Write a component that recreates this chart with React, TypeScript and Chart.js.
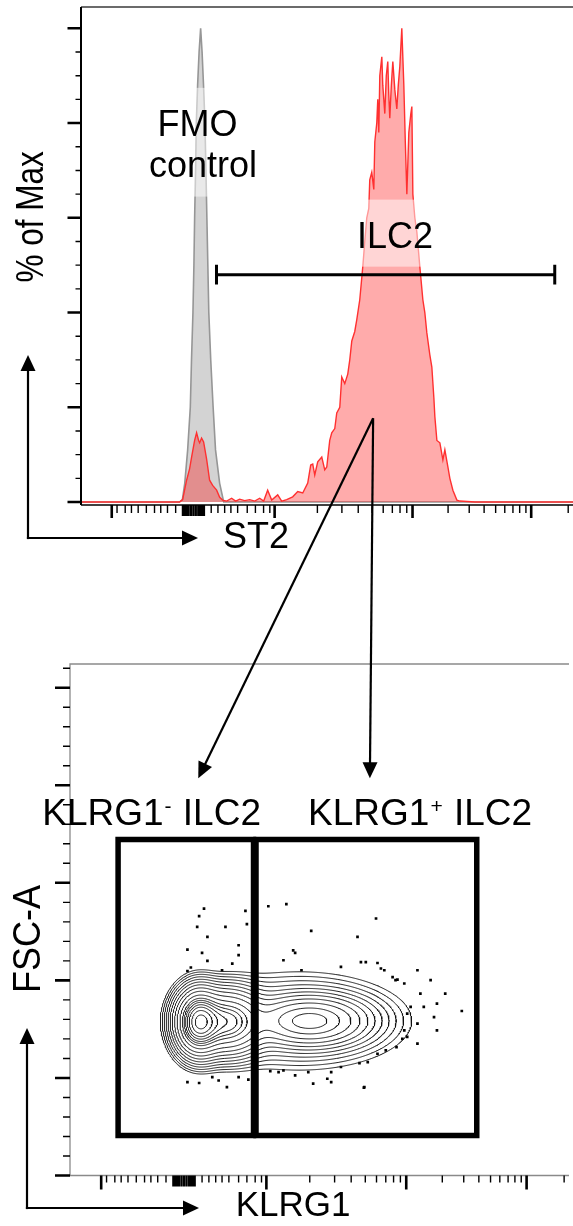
import React, { useEffect, useRef } from 'react';
import { Chart, registerables } from 'chart.js';

Chart.register(...registerables);

const W = 573;
const H = 1226;
const FONT = '"Liberation Sans", Arial, Helvetica, sans-serif';

// ---------- shared biexponential display axis (display channels 0-1024) ----------
const channelMin = 0;
const channelMax = 1024;
const biexMajorTicks = [64, 403, 690, 937]; // -10^3, 10^3, 10^4, 10^5
const biexZeroTicks = [212, 216, 220, 224, 229, 234, 239, 244, 248, 252, 256];
const biexMinorTicks = [75, 92, 105, 119, 136, 153, 166, 180, 197, 271, 285, 299, 312, 326, 346, 363, 380, 393,
  492, 543, 577, 606, 629, 648, 664, 678, 764, 808, 839, 863, 882, 899, 913, 926, 1014];

// ---------- top panel: ST2 histogram ----------
const pctMin = -0.63;
const pctMax = 104.5;
const pctMajorTicks = [0, 20, 40, 60, 80, 100];
const pctMinorTicks = [5, 10, 15, 25, 30, 35, 45, 50, 55, 65, 70, 75, 85, 90, 95];

const fmoChannel = [0, 205, 211, 216, 222, 227.5, 230, 233, 235, 236.5, 238.5, 240, 242.7, 245.8, 249, 252, 255, 258, 260, 262, 264, 266, 270, 275, 280, 288.5, 297, 1024];
const fmoPct = [0, 0, 0.5, 4, 11, 20, 30, 40, 50, 60, 70, 80, 88, 95, 100, 95, 88, 80, 70, 60, 50, 40, 30, 20, 11, 4, 0, 0];

const ilc2Channel = [0, 205, 211.5, 219.8, 226, 230.2, 236.5, 240.6, 244.8, 246.9, 251, 255.2, 261.5, 267.7, 274, 282.3, 288.6, 294.8,
  303.1, 313.5, 321.9, 330.2, 340.6, 351, 361.5, 371.9, 380.2, 388.5, 396.9, 409.4, 417.7, 428.1, 440.6, 451.1, 461.5, 471.9,
  478.1, 482.3, 486.5, 492.7, 501.1, 507.3, 511.5, 517.7, 521.9, 528.2, 532.3, 538.6, 542.7, 549, 555.2, 559.4, 563.6, 569.8,
  574, 580.2, 586.5, 590.6, 594.8, 599, 601, 605.2, 609.4, 611.5, 615.6, 617.7, 619.8, 621.9, 626.1, 628.1, 632.3, 635.4,
  638.5, 640.6, 642.7, 645.9, 649, 653.2, 657.3, 660.4, 663.6, 667.7, 671.9, 675, 678.2, 682.3, 686.5, 688.6, 690.7, 694.8,
  699, 705.2, 711.5, 715.6, 719.8, 726.1, 730.2, 734.4, 736.5, 740.7, 746.9, 753.2, 757.3, 763.6, 767.7, 774, 782.3, 788.5,
  819.8, 1024];
const ilc2Pct = [0, 0, 0.5, 4.6, 7, 9.5, 13, 14.6, 13, 12.5, 13.5, 12.7, 9, 4.6, 3.5, 2.5, 1, 0.4,
  0.2, 0.8, 0.2, 0.6, 0.3, 0.5, 0.2, 0.8, 0.2, 2.5, 0.4, 1.5, 0.2, 0.5, 1.1, 2.2, 1.9, 4,
  7.8, 8, 5.7, 8.5, 9.5, 6.8, 7.4, 13, 14.6, 15.5, 18.8, 20, 26.4, 25, 27, 30, 34, 36,
  38.5, 42.7, 49.7, 55, 60, 62, 68, 69.6, 66, 76, 80, 85, 78, 90, 94, 88, 82, 90,
  93, 86, 81, 88, 93, 87, 83, 88, 92, 100, 88, 76, 65, 78, 82, 83.5, 65, 60,
  57, 49.7, 42.7, 40, 35.7, 31, 28.5, 22, 18, 13, 12.5, 8.9, 11, 7.4, 5, 2.5, 0.4, 0.2,
  0, 0];

const ilc2GateChannels = [282, 986];
const ilc2GateLevel = 48;
const ilc2GateCap = [45.9, 50.1];

const fmoLabel = { x: 242.5, y: 77.3 };
const controlLabel = { x: 254, y: 68.7 };
const ilc2Label = { x: 653.5, y: 53.7 };
const arrowStart = { x: 608, y: 17.7 };

// ---------- bottom panel: KLRG1 vs FSC-A contour ----------
const fscMin = 0;
const fscMax = 262.144; // thousands
const fscMajorTicks = [0, 50, 100, 150, 200, 250];
const fscMinorTicks = [10, 20, 30, 40, 60, 70, 80, 90, 110, 120, 130, 140, 160, 170, 180, 190, 210, 220, 230, 240, 260];

const popCenterKlrg1 = [264.7, 321.7, 492.7, 468.2];
const popCenterFsc = [78.7, 78.7, 79.2, 79.2];
const popSpreadKlrg1 = [22.4, 36.6, 57.0, 101.8];
const popSpreadFsc = [7.7, 7.7, 6.16, 11.3];
const popWeight = [0.8, 0.45, 0.3, 0.03];
const contourLevels = [0.9, 0.75, 0.62, 0.52, 0.43, 0.36, 0.29, 0.203, 0.126, 0.078, 0.048, 0.03, 0.0186, 0.0115, 0.0071, 0.0044, 0.0027];

const outlierKlrg1 = [275, 360, 407, 444, 265, 261, 319, 363, 282, 628, 495, 590, 346, 241, 271, 346, 458, 462, 333, 282,
  248, 241, 312, 438, 475, 556, 597, 607, 631, 638, 645, 662, 668, 672, 686, 713, 740, 770, 719, 726, 753, 699, 692, 713,
  747, 753, 804, 686, 692, 682, 713, 648, 631, 594, 611, 556, 411, 428, 438, 462, 489, 536, 241, 265, 322, 366, 536, 604,
  292, 346, 305, 499, 603, 528, 670];
const outlierFsc = [136.8, 135.6, 138.0, 139.1, 132.9, 127.4, 127.4, 128.8, 122.3, 131.7, 125.4, 122.3, 118.0, 115.8, 114.1,
  112.9, 115.4, 114.1, 108.6, 110.0, 106.6, 104.8, 105.2, 110.3, 105.2, 106.9, 109.4, 109.4, 108.9, 106.1, 105.2, 101.7,
  100.1, 100.4, 98.4, 105.2, 100.1, 93.2, 93.2, 86.4, 88.1, 86.4, 83.0, 77.8, 81.2, 74.4, 84.3, 74.4, 71.0, 70.1, 67.6,
  64.1, 62.4, 57.6, 58.1, 55.6, 53.5, 53.0, 53.9, 51.3, 53.0, 53.0, 47.9, 47.4, 45.3, 49.1, 47.9, 45.3, 50.4, 50.4, 48.7,
  47.1, 45.0, 49.6, 65.8];

const gateNegKlrg1 = [98.7, 376.6];
const gatePosKlrg1 = [381.7, 834.7];
const gateFsc = [20.5, 172.2];

const negLabel = { x: -57, y: 179.6 };
const posLabel = { x: 488.6, y: 179.6 };
const arrowEndNeg = { x: 263.2, y: 203.6 };
const arrowEndPos = { x: 615.4, y: 203.6 };

// ---------- helpers ----------
function buildContours() {
  const x0 = 120, x1 = 900, y0 = 25, y1 = 140, nx = 390, ny = 230;
  const dx = (x1 - x0) / nx, dy = (y1 - y0) / ny;
  const NX = nx + 1;
  const g = new Float64Array(NX * (ny + 1));
  let max = 0;
  for (let j = 0; j <= ny; j++) {
    for (let i = 0; i <= nx; i++) {
      const x = x0 + i * dx, y = y0 + j * dy;
      let s = 0;
      for (let k = 0; k < popWeight.length; k++) {
        const u = (x - popCenterKlrg1[k]) / popSpreadKlrg1[k];
        const v = (y - popCenterFsc[k]) / popSpreadFsc[k];
        s += popWeight[k] * Math.exp(-0.5 * (u * u + v * v));
      }
      g[j * NX + i] = s;
      if (s > max) max = s;
    }
  }
  const out: any[] = [];
  for (const rel of contourLevels) {
    const L = rel * max;
    const segs: number[] = [];
    const adj = new Map<number, number[]>();
    const add = (a: number, b: number) => {
      const id = segs.length / 2;
      segs.push(a, b);
      if (!adj.has(a)) adj.set(a, []);
      if (!adj.has(b)) adj.set(b, []);
      adj.get(a)!.push(id);
      adj.get(b)!.push(id);
    };
    for (let j = 0; j < ny; j++) {
      for (let i = 0; i < nx; i++) {
        const v0 = g[j * NX + i], v1 = g[j * NX + i + 1], v2 = g[(j + 1) * NX + i + 1], v3 = g[(j + 1) * NX + i];
        const c = (v0 > L ? 1 : 0) | (v1 > L ? 2 : 0) | (v2 > L ? 4 : 0) | (v3 > L ? 8 : 0);
        if (c === 0 || c === 15) continue;
        const e0 = (j * NX + i) * 2;
        const e1 = (j * NX + i + 1) * 2 + 1;
        const e2 = ((j + 1) * NX + i) * 2;
        const e3 = (j * NX + i) * 2 + 1;
        const center = (v0 + v1 + v2 + v3) / 4;
        switch (c) {
          case 1: case 14: add(e3, e0); break;
          case 2: case 13: add(e0, e1); break;
          case 3: case 12: add(e3, e1); break;
          case 4: case 11: add(e1, e2); break;
          case 6: case 9: add(e0, e2); break;
          case 7: case 8: add(e3, e2); break;
          case 5:
            if (center > L) { add(e0, e1); add(e2, e3); } else { add(e3, e0); add(e1, e2); }
            break;
          case 10:
            if (center > L) { add(e3, e0); add(e1, e2); } else { add(e0, e1); add(e2, e3); }
            break;
        }
      }
    }
    const pt = (key: number) => {
      const idx = key >> 1;
      const i = idx % NX, j = Math.floor(idx / NX);
      if ((key & 1) === 0) {
        const a = g[idx], b = g[idx + 1];
        const t = (L - a) / (b - a);
        return { x: x0 + (i + t) * dx, y: y0 + j * dy };
      }
      const a = g[idx], b = g[idx + NX];
      const t = (L - a) / (b - a);
      return { x: x0 + i * dx, y: y0 + (j + t) * dy };
    };
    const nSeg = segs.length / 2;
    const used = new Uint8Array(nSeg);
    for (let s = 0; s < nSeg; s++) {
      if (used[s]) continue;
      used[s] = 1;
      const fwd: number[] = [segs[2 * s], segs[2 * s + 1]];
      let cur = segs[2 * s + 1];
      for (;;) {
        const nb = (adj.get(cur) || []).find((k) => !used[k]);
        if (nb === undefined) break;
        used[nb] = 1;
        const a = segs[2 * nb], b = segs[2 * nb + 1];
        cur = a === cur ? b : a;
        fwd.push(cur);
      }
      const back: number[] = [];
      cur = segs[2 * s];
      for (;;) {
        const nb = (adj.get(cur) || []).find((k) => !used[k]);
        if (nb === undefined) break;
        used[nb] = 1;
        const a = segs[2 * nb], b = segs[2 * nb + 1];
        cur = a === cur ? b : a;
        back.push(cur);
      }
      const chain = back.reverse().concat(fwd);
      let last = { x: 0, y: 0 };
      for (const k of chain) {
        last = pt(k);
        out.push(last);
      }
      out.push({ x: last.x, y: null });
    }
  }
  return out;
}

function arrowHead(ctx: CanvasRenderingContext2D, x1: number, y1: number, x2: number, y2: number, len: number, half: number, lw: number) {
  const ang = Math.atan2(y2 - y1, x2 - x1);
  const bx = x2 - Math.cos(ang) * len, by = y2 - Math.sin(ang) * len;
  ctx.lineWidth = lw;
  ctx.beginPath();
  ctx.moveTo(x1, y1);
  ctx.lineTo(bx + Math.cos(ang) * 1, by + Math.sin(ang) * 1);
  ctx.stroke();
  ctx.beginPath();
  ctx.moveTo(x2, y2);
  ctx.lineTo(bx + Math.sin(ang) * half, by - Math.cos(ang) * half);
  ctx.lineTo(bx - Math.sin(ang) * half, by + Math.cos(ang) * half);
  ctx.closePath();
  ctx.fill();
}

function lAxisArrows(ctx: CanvasRenderingContext2D, cx: number, cy: number, vTip: number, hTip: number) {
  ctx.strokeStyle = '#000';
  ctx.fillStyle = '#000';
  ctx.lineCap = 'butt';
  arrowHead(ctx, cx, cy + 1.1, cx, vTip, 16, 7.5, 2.2);
  arrowHead(ctx, cx - 1.1, cy, hTip, cy, 16, 7.5, 2.2);
}

function xTicks(ctx: CanvasRenderingContext2D, scale: any, y: number, vals: number[], len: number, lw: number, right: number) {
  ctx.lineWidth = lw;
  ctx.beginPath();
  for (const v of vals) {
    const x = scale.getPixelForValue(v);
    if (x > right + 1) continue;
    ctx.moveTo(x, y);
    ctx.lineTo(x, y + len);
  }
  ctx.stroke();
}

function yTicks(ctx: CanvasRenderingContext2D, scale: any, x: number, vals: number[], len: number, lw: number) {
  ctx.lineWidth = lw;
  ctx.beginPath();
  for (const v of vals) {
    const y = scale.getPixelForValue(v);
    ctx.moveTo(x - len, y);
    ctx.lineTo(x, y);
  }
  ctx.stroke();
}

function rotatedLabel(ctx: CanvasRenderingContext2D, text: string, bx: number, cy: number, size: number, stretch: number) {
  ctx.save();
  ctx.translate(bx, cy);
  ctx.rotate(-Math.PI / 2);
  ctx.scale(1, stretch);
  ctx.font = `${size}px ${FONT}`;
  ctx.textAlign = 'center';
  ctx.textBaseline = 'alphabetic';
  ctx.fillStyle = '#000';
  ctx.fillText(text, 0, 0);
  ctx.restore();
}

function supLabel(ctx: CanvasRenderingContext2D, x: number, y: number, main: string, sup: string, rest: string, size: number) {
  ctx.textAlign = 'left';
  ctx.textBaseline = 'alphabetic';
  ctx.fillStyle = '#000';
  ctx.font = `${size}px ${FONT}`;
  ctx.fillText(main, x, y);
  let cx = x + ctx.measureText(main).width + 1;
  ctx.font = `${Math.round(size * 0.56)}px ${FONT}`;
  ctx.fillText(sup, cx, y - size * 0.33);
  cx += ctx.measureText(sup).width + 1;
  ctx.font = `${size}px ${FONT}`;
  ctx.fillText(rest, cx, y);
}

export default function App() {
  const topRef = useRef<HTMLCanvasElement>(null);
  const botRef = useRef<HTMLCanvasElement>(null);

  useEffect(() => {
    const topDecor = {
      id: 'topDecor',
      afterDraw(chart: any) {
        const { ctx, chartArea: a } = chart;
        const xs = chart.scales.x, ys = chart.scales.y;
        ctx.save();
        // label boxes + labels
        ctx.font = `36px ${FONT}`;
        ctx.textAlign = 'center';
        ctx.textBaseline = 'alphabetic';
        const fx = xs.getPixelForValue(fmoLabel.x), fy = ys.getPixelForValue(fmoLabel.y);
        const cxp = xs.getPixelForValue(controlLabel.x), cyp = ys.getPixelForValue(controlLabel.y);
        const wF = ctx.measureText('FMO').width, wC = ctx.measureText('control').width;
        const bl = Math.min(fx - wF / 2, cxp - wC / 2) - 3, br = Math.max(fx + wF / 2, cxp + wC / 2) + 3;
        ctx.fillStyle = 'rgba(255,255,255,0.5)';
        ctx.fillRect(bl, fy - 48, br - bl, cyp + 20 - (fy - 48));
        const ix = xs.getPixelForValue(ilc2Label.x), iy = ys.getPixelForValue(ilc2Label.y);
        const wI = ctx.measureText('ILC2').width;
        ctx.fillRect(ix - wI / 2 - 4, iy - 48, wI + 8, 67);
        ctx.fillStyle = '#000';
        ctx.fillText('FMO', fx, fy);
        ctx.fillText('control', cxp, cyp);
        ctx.fillText('ILC2', ix, iy);

        // frame
        ctx.strokeStyle = '#3a3a3a';
        ctx.lineWidth = 1.4;
        ctx.beginPath();
        ctx.moveTo(a.left, a.top);
        ctx.lineTo(a.right, a.top);
        ctx.stroke();
        ctx.strokeStyle = '#000';
        ctx.lineWidth = 2;
        ctx.beginPath();
        ctx.moveTo(a.left, a.top);
        ctx.lineTo(a.left, a.bottom);
        ctx.stroke();
        ctx.lineWidth = 1.5;
        ctx.beginPath();
        ctx.moveTo(a.left, a.bottom);
        ctx.lineTo(a.right, a.bottom);
        ctx.stroke();

        // ticks
        ctx.strokeStyle = '#000';
        yTicks(ctx, ys, a.left, pctMajorTicks, 13.5, 2.6);
        yTicks(ctx, ys, a.left, pctMinorTicks, 5.5, 1.4);
        xTicks(ctx, xs, a.bottom, biexMajorTicks, 13, 2.6, a.right);
        xTicks(ctx, xs, a.bottom, biexZeroTicks, 11, 2.2, a.right);
        xTicks(ctx, xs, a.bottom, biexMinorTicks, 8, 1.4, a.right);

        // axis titles
        rotatedLabel(ctx, '% of Max', a.left - 38, ys.getPixelForValue(60.2), 31.5, 1.22);
        ctx.font = `36px ${FONT}`;
        ctx.textAlign = 'left';
        ctx.fillStyle = '#000';
        ctx.fillText('ST2', xs.getPixelForValue(295.5), a.bottom + 43);

        lAxisArrows(ctx, 28, a.bottom + 33, 355, 198);
        ctx.restore();
      },
    };

    const gateData = [
      { x: ilc2GateChannels[0], y: ilc2GateCap[0] }, { x: ilc2GateChannels[0], y: ilc2GateCap[1] }, { x: ilc2GateChannels[0], y: null },
      { x: ilc2GateChannels[0], y: ilc2GateLevel }, { x: ilc2GateChannels[1], y: ilc2GateLevel }, { x: ilc2GateChannels[1], y: null },
      { x: ilc2GateChannels[1], y: ilc2GateCap[0] }, { x: ilc2GateChannels[1], y: ilc2GateCap[1] },
    ];

    const top = new Chart(topRef.current as HTMLCanvasElement, {
      type: 'line',
      data: {
        datasets: [
          { label: 'ILC2 gate', data: gateData, borderColor: '#000', borderWidth: 3, pointRadius: 0, fill: false, order: 0, spanGaps: false } as any,
          {
            label: 'ILC2', data: ilc2Channel.map((x, i) => ({ x, y: ilc2Pct[i] })),
            borderColor: 'rgb(255,48,48)', backgroundColor: 'rgba(255,0,0,0.33)', borderWidth: 1.4,
            pointRadius: 0, fill: 'origin', order: 1,
          } as any,
          {
            label: 'FMO control', data: fmoChannel.map((x, i) => ({ x, y: fmoPct[i] })),
            borderColor: 'rgb(150,150,150)', backgroundColor: 'rgba(150,150,150,0.42)', borderWidth: 1.6,
            pointRadius: 0, fill: 'origin', order: 2,
          } as any,
        ],
      },
      options: {
        animation: false,
        responsive: false,
        devicePixelRatio: 1,
        events: [],
        layout: { padding: { left: 81, top: 7, right: 0, bottom: H - 505 } },
        elements: { line: { tension: 0 } },
        scales: {
          x: { type: 'linear', min: channelMin, max: channelMax, display: false },
          y: { type: 'linear', min: pctMin, max: pctMax, display: false },
        },
        plugins: { legend: { display: false }, tooltip: { enabled: false } },
      } as any,
      plugins: [topDecor],
    });

    const botDecor = {
      id: 'botDecor',
      afterDraw(chart: any) {
        const { ctx, chartArea: a } = chart;
        const xs = chart.scales.x, ys = chart.scales.y;
        ctx.save();
        // frame
        ctx.strokeStyle = '#8a8a8a';
        ctx.lineWidth = 1.3;
        ctx.beginPath();
        ctx.moveTo(a.right, a.top);
        ctx.lineTo(a.left, a.top);
        ctx.lineTo(a.left, a.bottom);
        ctx.lineTo(a.right, a.bottom);
        ctx.stroke();
        // ticks
        ctx.strokeStyle = '#000';
        yTicks(ctx, ys, a.left, fscMajorTicks, 15, 2.6);
        yTicks(ctx, ys, a.left, fscMinorTicks, 7, 1.4);
        xTicks(ctx, xs, a.bottom, biexMajorTicks, 14, 2.6, a.right);
        xTicks(ctx, xs, a.bottom, biexZeroTicks, 11, 2.2, a.right);
        xTicks(ctx, xs, a.bottom, biexMinorTicks, 7, 1.4, a.right);

        // titles
        rotatedLabel(ctx, 'FSC-A', a.left - 30, ys.getPixelForValue(121.2), 36, 1.06);
        ctx.font = `35px ${FONT}`;
        ctx.textAlign = 'left';
        ctx.fillStyle = '#000';
        ctx.fillText('KLRG1', xs.getPixelForValue(340), a.bottom + 40.5);

        // gate labels
        supLabel(ctx, xs.getPixelForValue(negLabel.x), ys.getPixelForValue(negLabel.y), 'KLRG1', '-', ' ILC2', 37);
        supLabel(ctx, xs.getPixelForValue(posLabel.x), ys.getPixelForValue(posLabel.y), 'KLRG1', '+', ' ILC2', 37);

        lAxisArrows(ctx, 27, a.bottom + 32.5, 1028, 199);

        // connecting arrows from the ILC2 gate
        const sx = top.scales.x.getPixelForValue(arrowStart.x);
        const sy = top.scales.y.getPixelForValue(arrowStart.y);
        ctx.strokeStyle = '#000';
        ctx.fillStyle = '#000';
        arrowHead(ctx, sx, sy, xs.getPixelForValue(arrowEndNeg.x), ys.getPixelForValue(arrowEndNeg.y), 16, 7.5, 2.2);
        arrowHead(ctx, sx, sy, xs.getPixelForValue(arrowEndPos.x), ys.getPixelForValue(arrowEndPos.y), 16, 7.5, 2.2);
        ctx.restore();
      },
    };

    const rect = (xsr: number[], ysr: number[]) => [
      { x: xsr[0], y: ysr[0] }, { x: xsr[1], y: ysr[0] }, { x: xsr[1], y: ysr[1] }, { x: xsr[0], y: ysr[1] }, { x: xsr[0], y: ysr[0] },
    ];

    const bot = new Chart(botRef.current as HTMLCanvasElement, {
      type: 'scatter',
      data: {
        datasets: [
          { label: 'KLRG1- ILC2 gate', data: rect(gateNegKlrg1, gateFsc), showLine: true, borderColor: '#000', borderWidth: 5.5, pointRadius: 0, borderJoinStyle: 'miter', borderCapStyle: 'square', order: 0 } as any,
          { label: 'KLRG1+ ILC2 gate', data: rect(gatePosKlrg1, gateFsc), showLine: true, borderColor: '#000', borderWidth: 5.5, pointRadius: 0, borderJoinStyle: 'miter', borderCapStyle: 'square', order: 0 } as any,
          { label: 'contours', data: buildContours(), showLine: true, borderColor: 'rgba(15,15,15,0.92)', borderWidth: 1.0, pointRadius: 0, spanGaps: false, borderJoinStyle: 'round', order: 2 } as any,
          { label: 'outliers', data: outlierKlrg1.map((x, i) => ({ x, y: outlierFsc[i] })), pointStyle: 'rect', pointRadius: 1.9, backgroundColor: '#000', borderColor: '#000', borderWidth: 0, order: 3 } as any,
        ],
      },
      options: {
        animation: false,
        responsive: false,
        devicePixelRatio: 1,
        events: [],
        layout: { padding: { left: 70, top: 664, right: 0, bottom: H - 1175.5 } },
        elements: { line: { tension: 0 } },
        scales: {
          x: { type: 'linear', min: channelMin, max: channelMax, display: false },
          y: { type: 'linear', min: fscMin, max: fscMax, display: false },
        },
        plugins: { legend: { display: false }, tooltip: { enabled: false } },
      } as any,
      plugins: [botDecor],
    });

    return () => {
      bot.destroy();
      top.destroy();
    };
  }, []);

  return (
    <div style={{ position: 'absolute', left: 0, top: 0, width: W, height: H, background: '#fff', overflow: 'hidden' }}>
      <canvas ref={topRef} width={W} height={H} style={{ position: 'absolute', left: 0, top: 0, width: W, height: H }} />
      <canvas ref={botRef} width={W} height={H} style={{ position: 'absolute', left: 0, top: 0, width: W, height: H }} />
    </div>
  );
}
